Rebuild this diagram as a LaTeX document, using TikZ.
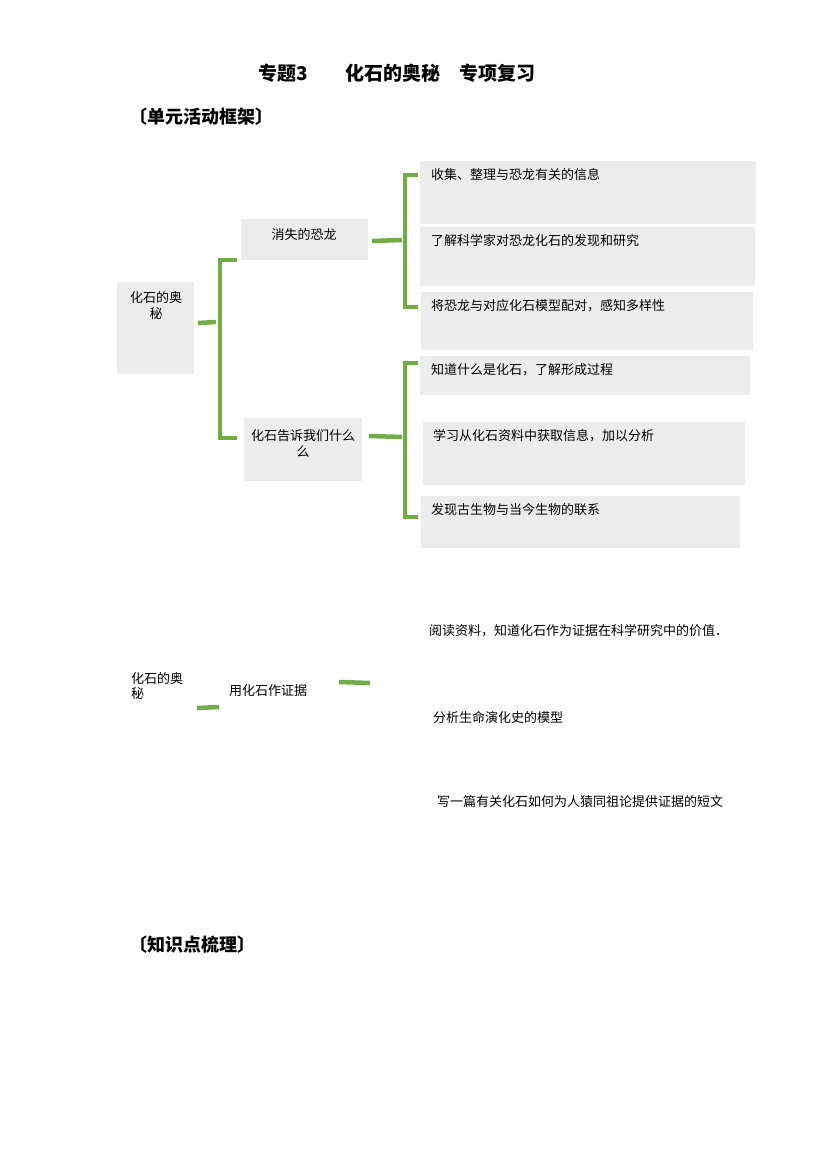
\documentclass[tikz,border=0pt]{standalone}
\usepackage{fontspec}
\setmainfont{Noto Sans CJK SC}
\usetikzlibrary{positioning}
\definecolor{boxgray}{RGB}{236,236,236}
\definecolor{leafgreen}{RGB}{112,173,71}
\begin{document}
\begin{tikzpicture}[x=1pt,y=-1pt,
                    box/.style={fill=boxgray,anchor=north west,inner sep=0pt},
                    label node/.style={anchor=north west,inner sep=0pt,font=\fontsize{13}{15}\selectfont},
                    bar/.style={leafgreen,line width=4.5pt}
                   ]
  \useasboundingbox (0,0) rectangle (827,1169);
  % headings
  \node[font=\bfseries\fontsize{19}{22}\selectfont] (title) at (397,73) {专题3\quad\quad 化石的奥秘\quad 专项复习};
  \node[anchor=west,font=\bfseries\fontsize{18}{20}\selectfont] (head1) at (126,117) {〔单元活动框架〕};
  \node[anchor=west,font=\bfseries\fontsize{18}{20}\selectfont] (head2) at (126,945) {〔知识点梳理〕};
  % boxes
  \fill[boxgray] (117,282) rectangle (194,374);
  \fill[boxgray] (241,219) rectangle (368,260);
  \fill[boxgray] (244,418) rectangle (362,481);
  \fill[boxgray] (420,161) rectangle (756,224);
  \fill[boxgray] (420,227) rectangle (755,286);
  \fill[boxgray] (421,292) rectangle (753,350);
  \fill[boxgray] (420,356) rectangle (750,395);
  \fill[boxgray] (423,422) rectangle (745,485);
  \fill[boxgray] (421,496) rectangle (740,548);
  \node[anchor=north,align=center,font=\fontsize{13}{16}\selectfont] (root) at (156,288) {化石的奥\\秘};
  \node[anchor=north,font=\fontsize{13}{16}\selectfont] (dino) at (304,225) {消失的恐龙};
  \node[anchor=north,align=center,font=\fontsize{13}{16}\selectfont] (tell) at (303,426) {化石告诉我们什么\\么};
  \node[label node] (c1) at (431,168) {收集、整理与恐龙有关的信息};
  \node[label node] (c2) at (431,234) {了解科学家对恐龙化石的发现和研究};
  \node[label node] (c3) at (431,299) {将恐龙与对应化石模型配对，感知多样性};
  \node[label node] (c4) at (431,363) {知道什么是化石，了解形成过程};
  \node[label node] (c5) at (433,429) {学习从化石资料中获取信息，加以分析};
  \node[label node] (c6) at (431,503) {发现古生物与当今生物的联系};
  % brackets
  \coordinate (r0) at (198,323);
  \coordinate (r1) at (216,322);
  \coordinate (d0) at (372,241);
  \coordinate (d1) at (402,240);
  \coordinate (t0) at (369,436);
  \coordinate (t1) at (402,437);
  \draw[bar] (r0) -- (r1);
  \draw[bar] (237,260) -- (220,260) -- (220,438) -- (237,438);
  \draw[bar] (d0) -- (d1);
  \draw[bar] (418,175) -- (405,175) -- (405,307) -- (418,307);
  \draw[bar] (t0) -- (t1);
  \draw[bar] (418,363) -- (405,363) -- (405,517) -- (418,517);
  % lower part
  \node[label node,align=left] (root2) at (131,672) {化石的奥\\秘};
  \node[label node] (proof) at (229,684) {用化石作证据};
  \node[label node] (p1) at (429,624) {阅读资料，知道化石作为证据在科学研究中的价值．};
  \node[label node] (p2) at (433,711) {分析生命演化史的模型};
  \node[label node] (p3) at (437,795) {写一篇有关化石如何为人猿同祖论提供证据的短文};
  \coordinate (u0) at (197,708);
  \coordinate (u1) at (219,707);
  \coordinate (v0) at (339,682);
  \coordinate (v1) at (370,683);
  \draw[bar] (u0) -- (u1);
  \draw[bar] (v0) -- (v1);
\end{tikzpicture}
\end{document}
